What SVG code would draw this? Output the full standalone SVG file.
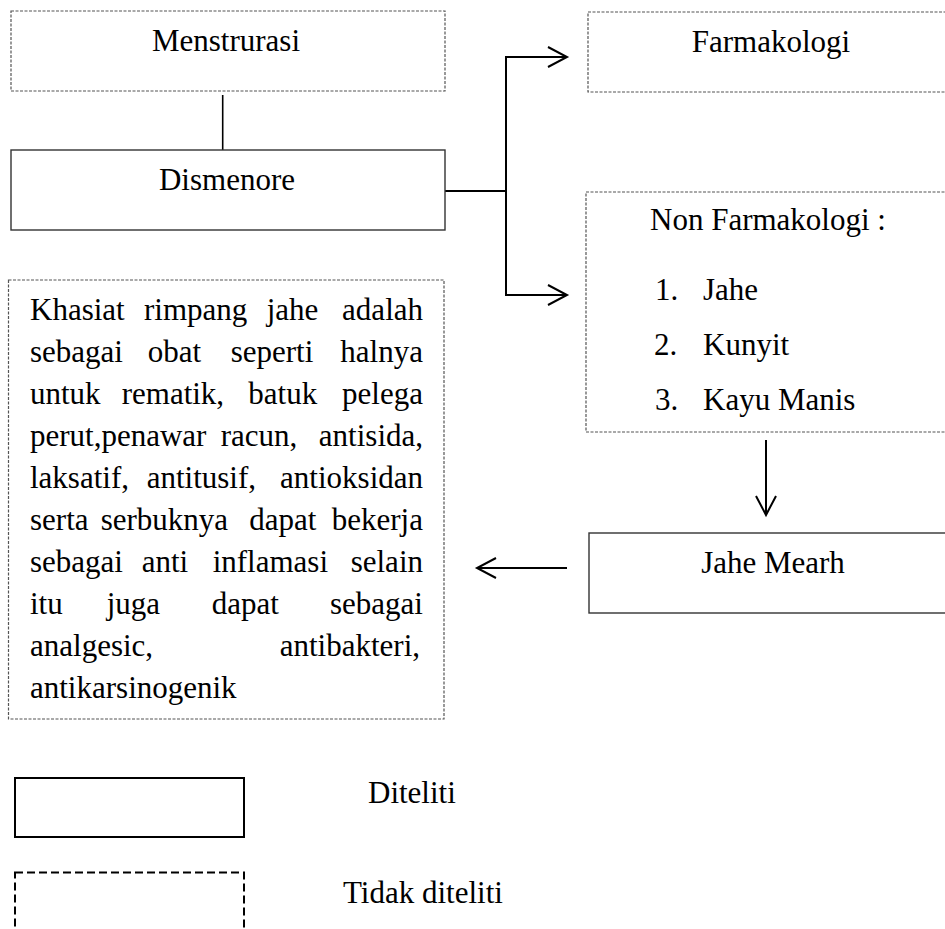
<svg xmlns="http://www.w3.org/2000/svg" width="945" height="929" viewBox="0 0 945 929">
<style>
text{font-family:"Times New Roman","Liberation Serif",Tinos,"DejaVu Serif",serif;font-size:31px;fill:#000}
.dot{fill:#fff;stroke:#555;stroke-width:1.2;stroke-dasharray:3 1.5}
.sol{fill:#fff;stroke:#333;stroke-width:1.4}
.c{text-anchor:middle}
.e{text-anchor:end}
.ln{fill:none;stroke:#000;stroke-width:2}
</style>
<defs>
<marker id="ah" markerUnits="userSpaceOnUse" markerWidth="24" markerHeight="26" refX="20" refY="11" orient="auto" viewBox="0 0 24 26">
<path d="M1,1 L20,11 L1,21" fill="none" stroke="#000" stroke-width="2"/>
</marker>
</defs>
<rect width="945" height="929" fill="#fff"/>
<g id="connectors">
<line x1="222.7" y1="95" x2="222.7" y2="150" stroke="#000" stroke-width="1.6"/>
<path class="ln" d="M445,191 H506"/>
<path class="ln" d="M506,57 V295"/>
<path class="ln" d="M505,57 H567" marker-end="url(#ah)"/>
<path class="ln" d="M505,295 H567" marker-end="url(#ah)"/>
<path class="ln" d="M766,440 V515" marker-end="url(#ah)"/>
<path class="ln" d="M567,568 H477" marker-end="url(#ah)"/>
</g>
<g id="menstrurasi">
<rect class="dot" x="11" y="11" width="434" height="80"/>
<text class="c" x="226" y="51">Menstrurasi</text>
</g>
<g id="dismenore">
<rect class="sol" x="11" y="150" width="434" height="80"/>
<text class="c" x="227" y="190">Dismenore</text>
</g>
<g id="farmakologi">
<rect class="dot" x="588" y="12" width="370" height="80"/>
<text class="c" x="771" y="52">Farmakologi</text>
</g>
<g id="non-farmakologi">
<rect class="dot" x="586" y="192" width="372" height="240"/>
<text class="c" x="768" y="230">Non Farmakologi :</text>
<text x="655" y="300">1.</text><text x="703" y="300">Jahe</text>
<text x="654" y="355">2.</text><text x="703" y="355">Kunyit</text>
<text x="655" y="410">3.</text><text x="703" y="410">Kayu Manis</text>
</g>
<g id="jahe-merah">
<rect class="sol" x="589" y="533" width="370" height="80"/>
<text class="c" x="773" y="573">Jahe Mearh</text>
</g>
<g id="khasiat">
<rect class="dot" x="8.5" y="280" width="435.5" height="439"/>
<text x="30" y="320">Khasiat</text><text x="144" y="320">rimpang</text><text x="266.7" y="320">jahe</text><text class="e" x="423" y="320">adalah</text>
<text x="30" y="362">sebagai</text><text x="147.7" y="362">obat</text><text x="230.7" y="362">seperti</text><text class="e" x="423" y="362">halnya</text>
<text x="30" y="404">untuk</text><text x="121.7" y="404">rematik,</text><text x="248.3" y="404">batuk</text><text class="e" x="423" y="404">pelega</text>
<text x="30" y="446">perut,penawar</text><text x="220.7" y="446">racun,</text><text class="e" x="423" y="446">antisida,</text>
<text x="30" y="488">laksatif,</text><text x="146.7" y="488">antitusif,</text><text class="e" x="423" y="488">antioksidan</text>
<text x="30" y="530">serta</text><text x="100.7" y="530">serbuknya</text><text x="249.3" y="530">dapat</text><text class="e" x="423" y="530">bekerja</text>
<text x="30" y="572">sebagai</text><text x="141.7" y="572">anti</text><text x="212.7" y="572">inflamasi</text><text class="e" x="423" y="572">selain</text>
<text x="30" y="614">itu</text><text x="106.7" y="614">juga</text><text x="211.7" y="614">dapat</text><text class="e" x="423" y="614">sebagai</text>
<text x="30" y="656">analgesic,</text><text class="e" x="420" y="656">antibakteri,</text>
<text x="30" y="698">antikarsinogenik</text>
</g>
<g id="legend-diteliti">
<rect x="15" y="778" width="229" height="59" fill="#fff" stroke="#000" stroke-width="2"/>
<text x="368" y="803">Diteliti</text>
</g>
<g id="legend-tidak-diteliti">
<rect x="15" y="872.5" width="229" height="80" fill="#fff" stroke="#000" stroke-width="2" stroke-dasharray="8 4"/>
<text x="343" y="903">Tidak diteliti</text>
</g>
</svg>
